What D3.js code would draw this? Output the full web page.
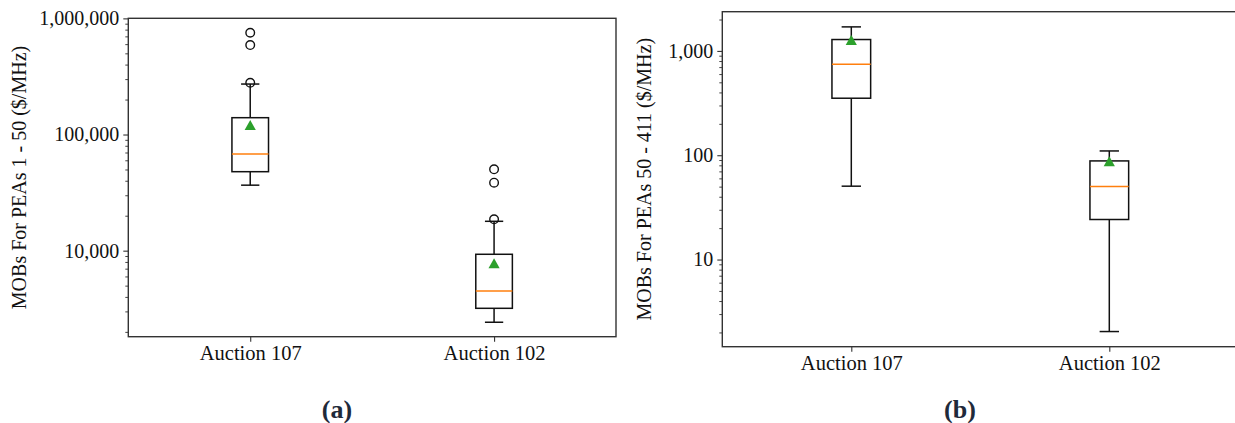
<!DOCTYPE html>
<html>
<head>
<meta charset="utf-8">
<script src="https://cdn.jsdelivr.net/npm/d3@7"></script>
<style>
  html, body { margin: 0; padding: 0; background: #fff; }
  svg { display: block; }
  text { font-family: "Liberation Serif", "Times New Roman", serif; }
</style>
</head>
<body>
<svg id="chart" width="1235" height="423"></svg>
<script>
// Categories shared by both panels
const categories = ["Auction 107", "Auction 102"];

// Panel (a): PEAs 1 - 50, box statistics per auction
const statsA = [
  { q1: 47860, median: 67950, q3: 139600, whiskerLow: 36640, whiskerHigh: 272000, mean: 120800 },
  { q1: 3190, median: 4500, q3: 9310, whiskerLow: 2420, whiskerHigh: 17900, mean: 7800 }
];
const outliersA = [
  [751600, 589000, 279000],
  [50170, 38470, 18620]
];
const ticksA = [10000, 100000, 1000000];
const domainA = [1817, 1001400];

// Panel (b): PEAs 50 - 411
const statsB = [
  { q1: 352, median: 745, q3: 1286, whiskerLow: 50.5, whiskerHigh: 1700, mean: 1275 },
  { q1: 24.2, median: 50.1, q3: 88.2, whiskerLow: 2.04, whiskerHigh: 109.9, mean: 87.6 }
];
const outliersB = [[], []];
const ticksB = [10, 100, 1000];
const domainB = [1.46, 2377];

const svg = d3.select("#chart");
const fmt = d3.format(",");
const FONT = '"Liberation Serif", "Times New Roman", serif';

// Upward triangle centred on its bounding box
const tri = "M0,-5L5.6,5L-5.6,5Z";

function drawPanel(cfg) {
  const { left, right, top, bottom, stats, outliers, ticks, domain, ylabel, ylabelX, tag, tagX } = cfg;
  const g = svg.append("g");

  // Positions 1..n with half-unit padding on each side
  const x = d3.scaleLinear().domain([0.5, categories.length + 0.5]).range([left, right]);
  const y = d3.scaleLog().domain(domain).range([bottom, top]);
  const unit = x(2) - x(1);
  const boxW = 0.15 * unit;
  const capW = boxW / 2;

  // Minor ticks across every decade in range
  const minorVals = y.ticks(20).filter(v => !ticks.includes(v));

  const yAxis = d3.axisLeft(y).tickValues(ticks).tickFormat(fmt).tickSize(5).tickPadding(4);
  const yAx = g.append("g").attr("transform", `translate(${left},0)`).call(yAxis);
  yAx.attr("font-family", FONT).attr("font-size", 20);
  yAx.select(".domain").remove();
  yAx.selectAll(".tick line").attr("stroke", "#333").attr("stroke-width", 1.1);
  yAx.selectAll(".tick text").attr("fill", "#111");

  const yMinor = d3.axisLeft(y).tickValues(minorVals).tickFormat("").tickSize(3);
  const yMi = g.append("g").attr("transform", `translate(${left},0)`).call(yMinor);
  yMi.select(".domain").remove();
  yMi.selectAll(".tick line").attr("stroke", "#444").attr("stroke-width", 1);

  const xAxis = d3.axisBottom(x).tickValues(categories.map((_, i) => i + 1))
    .tickFormat(d => categories[d - 1]).tickSize(5).tickPadding(4);
  const xAx = g.append("g").attr("transform", `translate(0,${bottom})`).call(xAxis);
  xAx.attr("font-family", FONT).attr("font-size", 20.5);
  xAx.select(".domain").remove();
  xAx.selectAll(".tick line").attr("stroke", "#333").attr("stroke-width", 1.1);
  xAx.selectAll(".tick text").attr("fill", "#111");

  // Axes frame
  g.append("rect")
    .attr("x", left).attr("y", top)
    .attr("width", right - left).attr("height", bottom - top)
    .attr("fill", "none").attr("stroke", "#333").attr("stroke-width", 1.4);

  stats.forEach((s, i) => {
    const cx = x(i + 1);
    const bg = g.append("g");
    // whiskers
    bg.append("line").attr("x1", cx).attr("x2", cx).attr("y1", y(s.q1)).attr("y2", y(s.whiskerLow))
      .attr("stroke", "#111").attr("stroke-width", 1.5);
    bg.append("line").attr("x1", cx).attr("x2", cx).attr("y1", y(s.q3)).attr("y2", y(s.whiskerHigh))
      .attr("stroke", "#111").attr("stroke-width", 1.5);
    // caps
    [s.whiskerLow, s.whiskerHigh].forEach(v => {
      bg.append("line").attr("x1", cx - capW / 2).attr("x2", cx + capW / 2)
        .attr("y1", y(v)).attr("y2", y(v)).attr("stroke", "#111").attr("stroke-width", 1.5);
    });
    // box
    bg.append("rect").attr("x", cx - boxW / 2).attr("width", boxW)
      .attr("y", y(s.q3)).attr("height", y(s.q1) - y(s.q3))
      .attr("fill", "none").attr("stroke", "#111").attr("stroke-width", 1.5);
    // median
    bg.append("line").attr("x1", cx - boxW / 2).attr("x2", cx + boxW / 2)
      .attr("y1", y(s.median)).attr("y2", y(s.median))
      .attr("stroke", "#ff7f0e").attr("stroke-width", 1.5);
    // outliers
    outliers[i].forEach(v => {
      bg.append("circle").attr("cx", cx).attr("cy", y(v)).attr("r", 4.3)
        .attr("fill", "none").attr("stroke", "#111").attr("stroke-width", 1.4);
    });
    // mean marker
    bg.append("path")
      .attr("d", tri)
      .attr("transform", `translate(${cx},${y(s.mean)})`)
      .attr("fill", "#2ca02c");
  });

  // y-axis title
  g.append("text")
    .attr("transform", `translate(${ylabelX},${(top + bottom) / 2}) rotate(-90)`)
    .attr("text-anchor", "middle").attr("dominant-baseline", "middle")
    .attr("font-size", 20).attr("fill", "#111")
    .text(ylabel);

  // panel tag
  g.append("text")
    .attr("x", tagX).attr("y", 418)
    .attr("text-anchor", "middle")
    .attr("font-size", 26).attr("font-weight", "bold").attr("fill", "#1f2a3a")
    .text(tag);
}

drawPanel({
  left: 128.3, right: 616, top: 18.3, bottom: 336.7,
  stats: statsA, outliers: outliersA, ticks: ticksA, domain: domainA,
  ylabel: "MOBs For PEAs 1 - 50 ($/MHz)", ylabelX: 21, tag: "(a)", tagX: 337
});

drawPanel({
  left: 722.3, right: 1238.3, top: 11.7, bottom: 346.7,
  stats: statsB, outliers: outliersB, ticks: ticksB, domain: domainB,
  ylabel: "MOBs For PEAs 50 - 411 ($/MHz)", ylabelX: 646, tag: "(b)", tagX: 960
});
</script>
</body>
</html>
